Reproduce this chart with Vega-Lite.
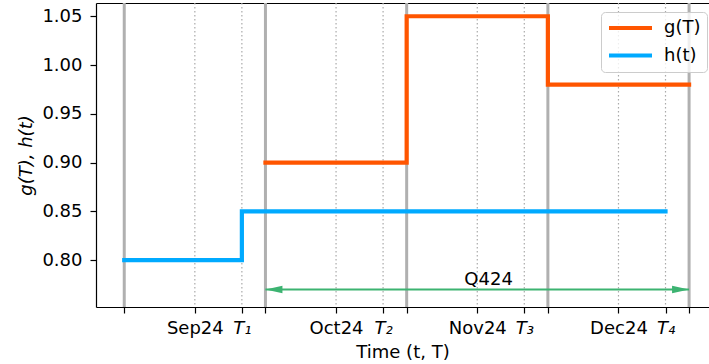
{
  "$schema": "https://vega.github.io/schema/vega-lite/v6.json",
  "width": 613,
  "height": 304,
  "autosize": {"type": "none"},
  "padding": {"left": 96, "top": 3, "right": 0, "bottom": 57},
  "background": "white",
  "config": {
    "view": {"stroke": null},
    "font": "DejaVu Sans",
    "axis": {
      "labelFont": "DejaVu Sans",
      "titleFont": "DejaVu Sans",
      "labelFontSize": 18,
      "titleFontSize": 18,
      "titleFontWeight": "normal",
      "labelColor": "black",
      "titleColor": "black",
      "domainColor": "black",
      "tickColor": "black",
      "domainWidth": 1.2,
      "tickWidth": 1.2,
      "tickSize": 6,
      "grid": false
    },
    "legend": {"labelFont": "DejaVu Sans"}
  },
  "datasets": {
    "months": [{"x": 0}, {"x": 1}, {"x": 2}, {"x": 3}, {"x": 4}],
    "marks": [
      {"x": 0.5}, {"x": 0.833}, {"x": 1.5}, {"x": 1.833},
      {"x": 2.5}, {"x": 2.833}, {"x": 3.5}, {"x": 3.833}
    ],
    "series": [
      {"series": "g(T)", "x": 1, "y": 0.90},
      {"series": "g(T)", "x": 2, "y": 1.05},
      {"series": "g(T)", "x": 3, "y": 0.98},
      {"series": "g(T)", "x": 4, "y": 0.98},
      {"series": "h(t)", "x": 0, "y": 0.80},
      {"series": "h(t)", "x": 0.833, "y": 0.85},
      {"series": "h(t)", "x": 3.833, "y": 0.85}
    ],
    "span": [{"x": 1, "x2": 4, "y": 0.77, "label": "Q424", "xl": 2.58}],
    "heads": [
      {"x": 1, "y": 0.77, "dir": "left"},
      {"x": 4, "y": 0.77, "dir": "right"}
    ]
  },
  "resolve": {"axis": {"x": "independent"}},
  "layer": [
    {
      "data": {"name": "months"},
      "mark": {"type": "rule", "color": "#b0b0b0", "strokeWidth": 3},
      "encoding": {
        "x": {
          "field": "x",
          "type": "quantitative",
          "scale": {"domain": [-0.2, 4.141], "nice": false, "zero": false},
          "axis": {
            "orient": "bottom",
            "title": "Time (t, T)",
            "titlePadding": 6,
            "values": [0, 0.5, 0.833, 1, 1.5, 1.833, 2, 2.5, 2.833, 3, 3.5, 3.833, 4],
            "labelExpr": "datum.value == 0.5 ? 'Sep24' : datum.value == 1.5 ? 'Oct24' : datum.value == 2.5 ? 'Nov24' : datum.value == 3.5 ? 'Dec24' : datum.value == 0.833 ? 'T₁' : datum.value == 1.833 ? 'T₂' : datum.value == 2.833 ? 'T₃' : datum.value == 3.833 ? 'T₄' : ''",
            "labelFontStyle": {"condition": {"test": "datum.value % 1 > 0.6", "value": "italic"}, "value": "normal"},
            "labelOverlap": false,
            "labelFlush": false,
            "labelPadding": 6
          }
        }
      }
    },
    {
      "data": {"name": "marks"},
      "mark": {"type": "rule", "color": "#aaaaaa", "strokeWidth": 1.2, "strokeDash": [1.5, 2.5]},
      "encoding": {
        "x": {
          "field": "x",
          "type": "quantitative",
          "scale": {"domain": [-0.2, 4.141], "nice": false, "zero": false},
          "axis": {"orient": "top", "labels": false, "ticks": false, "title": null, "domain": true}
        }
      }
    },
    {
      "data": {"name": "series"},
      "mark": {"type": "line", "interpolate": "step-after", "strokeWidth": 4.2, "strokeCap": "square", "strokeJoin": "miter"},
      "encoding": {
        "x": {
          "field": "x",
          "type": "quantitative",
          "scale": {"domain": [-0.2, 4.141], "nice": false, "zero": false},
          "axis": null
        },
        "y": {
          "field": "y",
          "type": "quantitative",
          "scale": {"domain": [0.752, 1.0636], "nice": false, "zero": false},
          "axis": {
            "title": "g(T), h(t)",
            "titleFontStyle": "italic",
            "titlePadding": 6,
            "values": [0.8, 0.85, 0.9, 0.95, 1.0, 1.05],
            "format": ".2f",
            "labelPadding": 8
          }
        },
        "color": {
          "field": "series",
          "type": "nominal",
          "scale": {"domain": ["g(T)", "h(t)"], "range": ["#ff5500", "#00aaff"]},
          "legend": {
            "title": null,
            "orient": "none",
            "legendX": 505,
            "legendY": 9,
            "symbolType": "stroke",
            "symbolStrokeWidth": 4,
            "symbolSize": 1849,
            "clipHeight": 20,
            "labelFontSize": 18,
            "labelColor": "black",
            "labelOffset": 10,
            "rowPadding": 7.6,
            "padding": 6,
            "strokeColor": "#cccccc",
            "cornerRadius": 4,
            "fillColor": "rgba(255,255,255,0.8)"
          }
        }
      }
    },
    {
      "data": {"name": "span"},
      "mark": {"type": "rule", "color": "#3cb371", "strokeWidth": 2},
      "encoding": {
        "x": {"field": "x", "type": "quantitative", "scale": {"domain": [-0.2, 4.141], "nice": false, "zero": false}, "axis": null},
        "x2": {"field": "x2"},
        "y": {"field": "y", "type": "quantitative", "scale": {"domain": [0.752, 1.0636], "nice": false, "zero": false}}
      }
    },
    {
      "data": {"name": "heads"},
      "mark": {"type": "point", "filled": true, "opacity": 1, "size": 1156, "color": "#3cb371", "strokeWidth": 0},
      "encoding": {
        "x": {"field": "x", "type": "quantitative", "scale": {"domain": [-0.2, 4.141], "nice": false, "zero": false}, "axis": null},
        "y": {"field": "y", "type": "quantitative", "scale": {"domain": [0.752, 1.0636], "nice": false, "zero": false}},
        "shape": {
          "field": "dir",
          "type": "nominal",
          "scale": {"domain": ["left", "right"], "range": ["M0,0L1,-0.22L1,0.22Z", "M0,0L-1,-0.22L-1,0.22Z"]},
          "legend": null
        }
      }
    },
    {
      "data": {"name": "span"},
      "mark": {"type": "text", "fontSize": 18, "color": "black", "align": "center", "baseline": "alphabetic", "dy": -4},
      "encoding": {
        "x": {"field": "xl", "type": "quantitative", "scale": {"domain": [-0.2, 4.141], "nice": false, "zero": false}, "axis": null},
        "y": {"field": "y", "type": "quantitative", "scale": {"domain": [0.752, 1.0636], "nice": false, "zero": false}},
        "text": {"field": "label"}
      }
    }
  ]
}
